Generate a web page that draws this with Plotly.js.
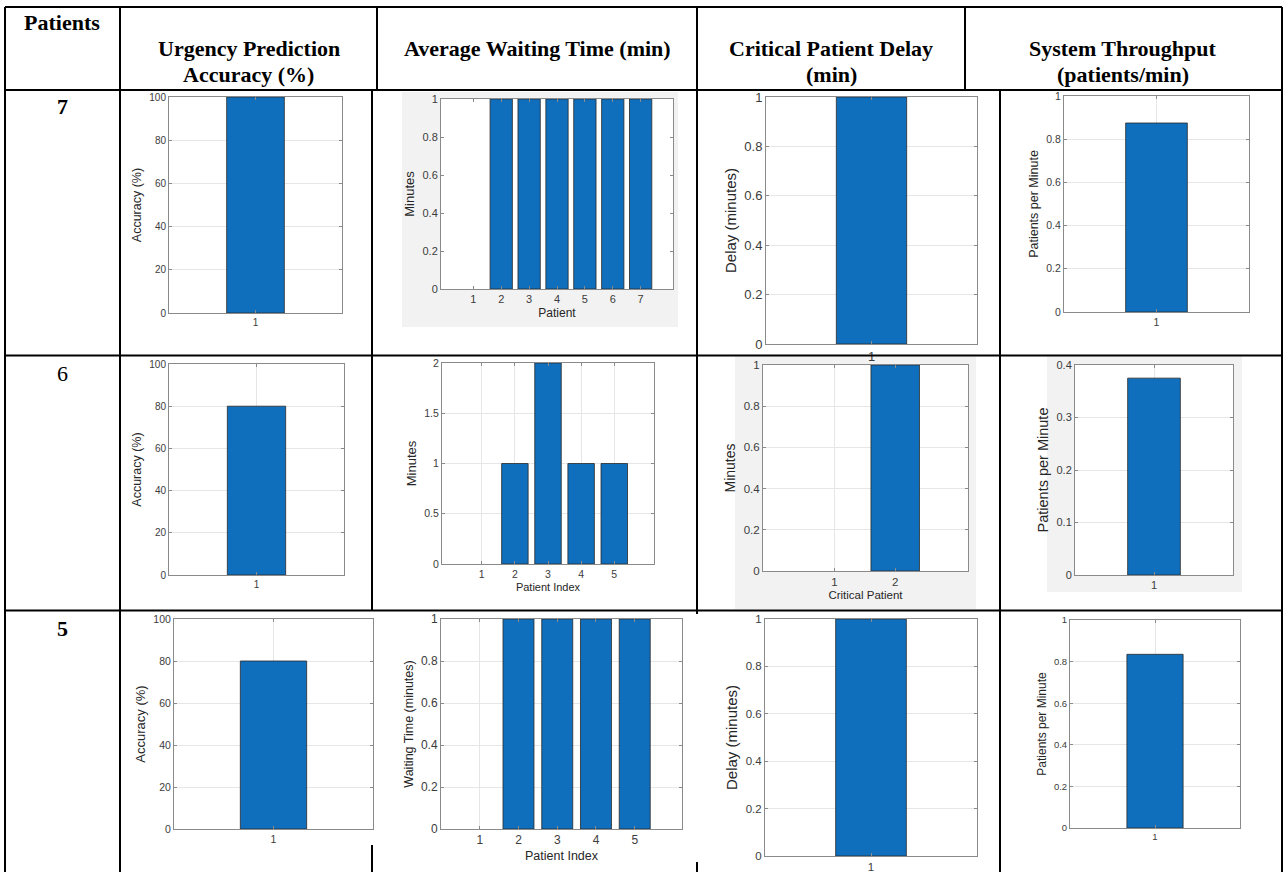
<!DOCTYPE html>
<html>
<head>
<meta charset="utf-8">
<script src="https://cdn.plot.ly/plotly-3.0.1.min.js"></script>
<style>html,body{margin:0;padding:0;background:#fff;}#chart{width:1284px;height:872px;}</style>
</head>
<body>
<div id="chart"></div>
<script>
// ---------- data ----------
const headerPatients = "Patients";
const headerCols = [["Urgency Prediction", "Accuracy (%)"], ["Average Waiting Time (min)"], ["Critical Patient Delay", "(min)"], ["System Throughput", "(patients/min)"]];
const rowLabels = ["7", "6", "5"];

const accuracyX = [1];
const accuracy7 = [100];
const accuracy6 = [80];
const accuracy5 = [80];

const waitX7 = [1, 2, 3, 4, 5, 6, 7];
const wait7 = [0, 1, 1, 1, 1, 1, 1];
const waitX6 = [1, 2, 3, 4, 5];
const wait6 = [0, 1, 2, 1, 1];
const waitX5 = [1, 2, 3, 4, 5];
const wait5 = [0, 1, 1, 1, 1];

const delayX7 = [1];
const delay7 = [1];
const delayX6 = [1, 2];
const delay6 = [0, 1];
const delayX5 = [1];
const delay5 = [1];

const throughputX = [1];
const throughput7 = [0.875];
const throughput6 = [0.375];
const throughput5 = [0.835];

// ---------- layout helpers ----------
const W = 1284, H = 872;
const fx = p => p / W;
const fy = p => 1 - p / H;
const SANS = "Liberation Sans, Arial, sans-serif";
const SERIF = "Liberation Serif, Times New Roman, serif";
const BAR = "#0f6fbd";
const FRAME = "#8a8a8a";
const GRID = "#e6e6e6";

const panels = [
  {x: accuracyX, y: accuracy7, box: [169, 342, 97, 313], xr: [-0.2, 2.2], yr: [0, 100], dt: 20, grid: true, yt: "Accuracy (%)", xt: "", ts: 10, tts: 12.5, xts: 11},
  {x: waitX7, y: wait7, box: [441, 673, 99, 289], xr: [-0.16, 8.16], yr: [0, 1], dt: 0.2, grid: false, yt: "Minutes", xt: "Patient", ts: 11, tts: 13, xts: 12, bg: [402, 678, 92, 327]},
  {x: delayX7, y: delay7, box: [766, 977, 97, 344], xr: [-0.2, 2.2], yr: [0, 1], dt: 0.2, grid: true, yt: "Delay (minutes)", xt: "", ts: 13, tts: 15, xts: 11},
  {x: throughputX, y: throughput7, box: [1064, 1249, 96, 312], xr: [-0.2, 2.2], yr: [0, 1], dt: 0.2, grid: true, yt: "Patients per Minute", xt: "", ts: 10.5, tts: 12.5, xts: 11},
  {x: accuracyX, y: accuracy6, box: [169, 344, 364, 575], xr: [-0.2, 2.2], yr: [0, 100], dt: 20, grid: true, yt: "Accuracy (%)", xt: "", ts: 10, tts: 12.5, xts: 11},
  {x: waitX6, y: wait6, box: [442, 654, 363, 564], xr: [-0.2, 6.2], yr: [0, 2], dt: 0.5, grid: true, yt: "Minutes", xt: "Patient Index", ts: 10.5, tts: 13, xts: 11},
  {x: delayX6, y: delay6, box: [763, 968, 365, 571], xr: [-0.18, 3.2], yr: [0, 1], dt: 0.2, grid: true, yt: "Minutes", xt: "Critical Patient", ts: 11.5, tts: 14, xts: 11.5, bg: [735, 976, 356, 609]},
  {x: throughputX, y: throughput6, box: [1075, 1233, 365, 575], xr: [-0.2, 2.2], yr: [0, 0.4], dt: 0.1, grid: true, yt: "Patients per Minute", xt: "", ts: 11, tts: 14.5, xts: 11, bg: [1047, 1242, 356, 592]},
  {x: accuracyX, y: accuracy5, box: [174, 373, 619, 829], xr: [-0.2, 2.2], yr: [0, 100], dt: 20, grid: true, yt: "Accuracy (%)", xt: "", ts: 10.5, tts: 13, xts: 11},
  {x: waitX5, y: wait5, box: [441, 682, 619, 829], xr: [0, 6.22], yr: [0, 1], dt: 0.2, grid: true, yt: "Waiting Time (minutes)", xt: "Patient Index", ts: 12, tts: 12.5, xts: 12.5},
  {x: delayX5, y: delay5, box: [765, 977, 619, 856], xr: [-0.2, 2.2], yr: [0, 1], dt: 0.2, grid: true, yt: "Delay (minutes)", xt: "", ts: 11.5, tts: 15, xts: 11},
  {x: throughputX, y: throughput5, box: [1070, 1240, 620, 828], xr: [-0.21, 2.21], yr: [0, 1], dt: 0.2, grid: true, yt: "Patients per Minute", xt: "", ts: 9.5, tts: 12, xts: 11}
];

const data = [];
const layout = {
  width: W, height: H,
  margin: {l: 0, r: 0, t: 0, b: 0},
  paper_bgcolor: "#ffffff",
  plot_bgcolor: "#ffffff",
  showlegend: false,
  shapes: [],
  annotations: []
};

panels.forEach((p, i) => {
  const n = i === 0 ? "" : String(i + 1);
  const [l, r, t, b] = p.box;
  data.push({
    type: "bar", x: p.x, y: p.y, width: 0.8,
    xaxis: "x" + n, yaxis: "y" + n,
    marker: {color: BAR, line: {color: "#2a2a2a", width: p.y.map(v => v === 0 ? 0 : 0.8)}},
    hoverinfo: "skip"
  });
  const common = {
    showline: true, mirror: "ticks", linecolor: FRAME, linewidth: 1,
    ticks: "inside", ticklen: 3, tickcolor: FRAME, tickwidth: 1,
    showgrid: p.grid, gridcolor: GRID, gridwidth: 1, zeroline: false,
    tickfont: {family: SANS, size: p.ts, color: "#3c3c3c"},
    fixedrange: true, automargin: false
  };
  layout["xaxis" + n] = Object.assign({}, common, {
    domain: [fx(l), fx(r)], range: p.xr, anchor: "y" + n,
    tickmode: "array", tickvals: p.x, ticktext: p.x.map(String),
    title: {text: p.xt, font: {family: SANS, size: p.xts, color: "#262626"}, standoff: 4}
  });
  layout["yaxis" + n] = Object.assign({}, common, {
    domain: [fy(b), fy(t)], range: p.yr, anchor: "x" + n,
    tick0: 0, dtick: p.dt,
    title: {text: p.yt, font: {family: SANS, size: p.tts, color: "#262626"}, standoff: 4}
  });
  if (p.bg) {
    layout.shapes.push({type: "rect", xref: "paper", yref: "paper", layer: "below",
      x0: fx(p.bg[0]), x1: fx(p.bg[1]), y0: fy(p.bg[3]), y1: fy(p.bg[2]),
      fillcolor: "#f2f2f2", line: {width: 0}});
    layout.shapes.push({type: "rect", xref: "x" + n + " domain", yref: "y" + n + " domain", layer: "below",
      x0: 0, x1: 1, y0: 0, y1: 1, fillcolor: "#ffffff", line: {width: 0}});
  }
});

// table borders
function hline(y, x0, x1) {
  layout.shapes.push({type: "line", xref: "paper", yref: "paper", layer: "above",
    x0: fx(x0), x1: fx(x1), y0: fy(y), y1: fy(y), line: {color: "#000", width: 2}});
}
function vline(x, y0, y1) {
  layout.shapes.push({type: "line", xref: "paper", yref: "paper", layer: "above",
    x0: fx(x), x1: fx(x), y0: fy(y0), y1: fy(y1), line: {color: "#000", width: 2}});
}
hline(7, 5, 1282); hline(90, 5, 1282); hline(355.5, 5, 1282); hline(610.5, 5, 1282);
vline(5, 7, 872); vline(120, 7, 872); vline(1282, 7, 872);
// header row separators
vline(377, 7, 90); vline(697, 7, 90); vline(965, 7, 90);
// body row separators
vline(372, 90, 610.5); vline(372, 845, 872);
vline(697, 90, 614); vline(697, 862, 872);
vline(1000, 90, 872);

// header text
function ann(text, x, y, size, bold) {
  layout.annotations.push({xref: "paper", yref: "paper", x: fx(x), y: fy(y),
    xanchor: "center", yanchor: "middle", showarrow: false,
    text: bold ? "<b>" + text + "</b>" : text,
    font: {family: SERIF, size: size, color: "#000"}});
}
ann(headerPatients, 62, 23, 22, true);
const colCenters = [248.5, 537, 831, 1123];
headerCols.forEach((lines, i) => {
  ann(lines[0], colCenters[i], 48, 22, true);
  if (lines.length > 1) ann(lines[1], colCenters[i], 75, 22, true);
});
const rowY = [106, 374, 628];
const rowBold = [true, false, true];
rowLabels.forEach((t, i) => ann(t, 62, rowY[i], 22, rowBold[i]));

Plotly.newPlot("chart", data, layout, {displayModeBar: false, staticPlot: true});
</script>
</body>
</html>
